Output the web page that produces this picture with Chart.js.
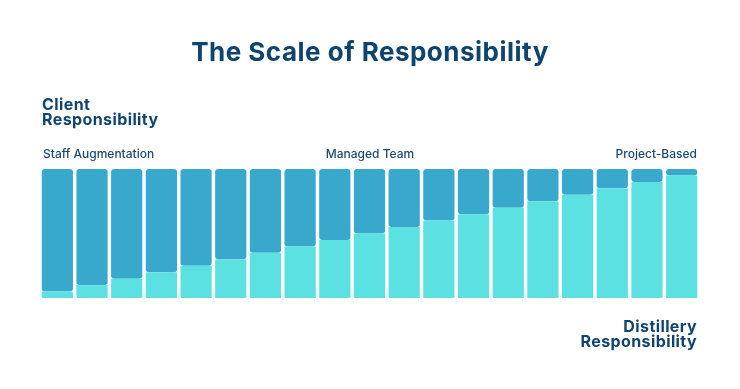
<!DOCTYPE html>
<html>
<head>
<meta charset="utf-8">
<script src="https://cdn.jsdelivr.net/npm/chart.js@4"></script>
<style>
  html, body { margin: 0; padding: 0; background: #fff; }
  #wrap { position: relative; width: 740px; height: 389px; overflow: hidden; font-family: Inter, "Open Sans", sans-serif; color: #0f4470; }
  #wrap canvas { position: absolute; left: 0; top: 0; }
  .txt { position: absolute; white-space: nowrap; }
  #title { left: 0; width: 740px; top: 36px; text-align: center; font-size: 26px; font-weight: 700; letter-spacing: 0.5px; }
  .side { font-size: 16px; font-weight: 700; line-height: 15px; letter-spacing: 0.4px; }
  #client { left: 42px; top: 97px; }
  #distillery { right: 43px; top: 319px; text-align: right; }
  .lbl { font-size: 12px; font-weight: 500; top: 146px; color: #1c4a70; }
  #l1 { left: 43px; }
  #l2 { left: 370px; transform: translateX(-50%); }
  #l3 { right: 43px; }
</style>
</head>
<body>
<div id="wrap">
  <canvas id="mainChart" width="740" height="389"></canvas>
  <div class="txt" id="title">The Scale of Responsibility</div>
  <div class="txt side" id="client">Client<br>Responsibility</div>
  <div class="txt side" id="distillery">Distillery<br>Responsibility</div>
  <div class="txt lbl" id="l1">Staff Augmentation</div>
  <div class="txt lbl" id="l2">Managed Team</div>
  <div class="txt lbl" id="l3">Project-Based</div>
</div>
<script>
// ─────────────────────────────────────────
// data (percent of each bar)
// ─────────────────────────────────────────
const steps = ['1','2','3','4','5','6','7','8','9','10','11','12','13','14','15','16','17','18','19'];
const distillery = [5, 10, 15, 20, 25, 30, 35, 40, 45, 50, 55, 60, 65, 70, 75, 80, 85, 90, 95];
const client     = [95, 90, 85, 80, 75, 70, 65, 60, 55, 50, 45, 40, 35, 30, 25, 20, 15, 10, 5];

const ctx = document.getElementById('mainChart');

new Chart(ctx, {
  type: 'bar',
  data: {
    labels: steps,
    datasets: [
      {
        label: 'Distillery',
        data: distillery,
        backgroundColor: '#5ce1e2',
        borderWidth: 0,
        borderRadius: 2,
        borderSkipped: false,
        categoryPercentage: 0.9,
        barPercentage: 1,
      },
      {
        label: 'Client',
        data: client,
        backgroundColor: '#38a9cc',
        borderWidth: 0,
        borderRadius: 3,
        borderSkipped: false,
        categoryPercentage: 0.9,
        barPercentage: 1,
      },
    ],
  },
  options: {
    responsive: false,
    animation: false,
    layout: { padding: { left: 40, right: 41, top: 169, bottom: 91 } },
    plugins: { legend: { display: false }, tooltip: { enabled: false } },
    scales: {
      x: { stacked: true, display: false },
      y: { stacked: true, display: false, min: 0, max: 100 },
    },
  },
});
</script>
</body>
</html>
